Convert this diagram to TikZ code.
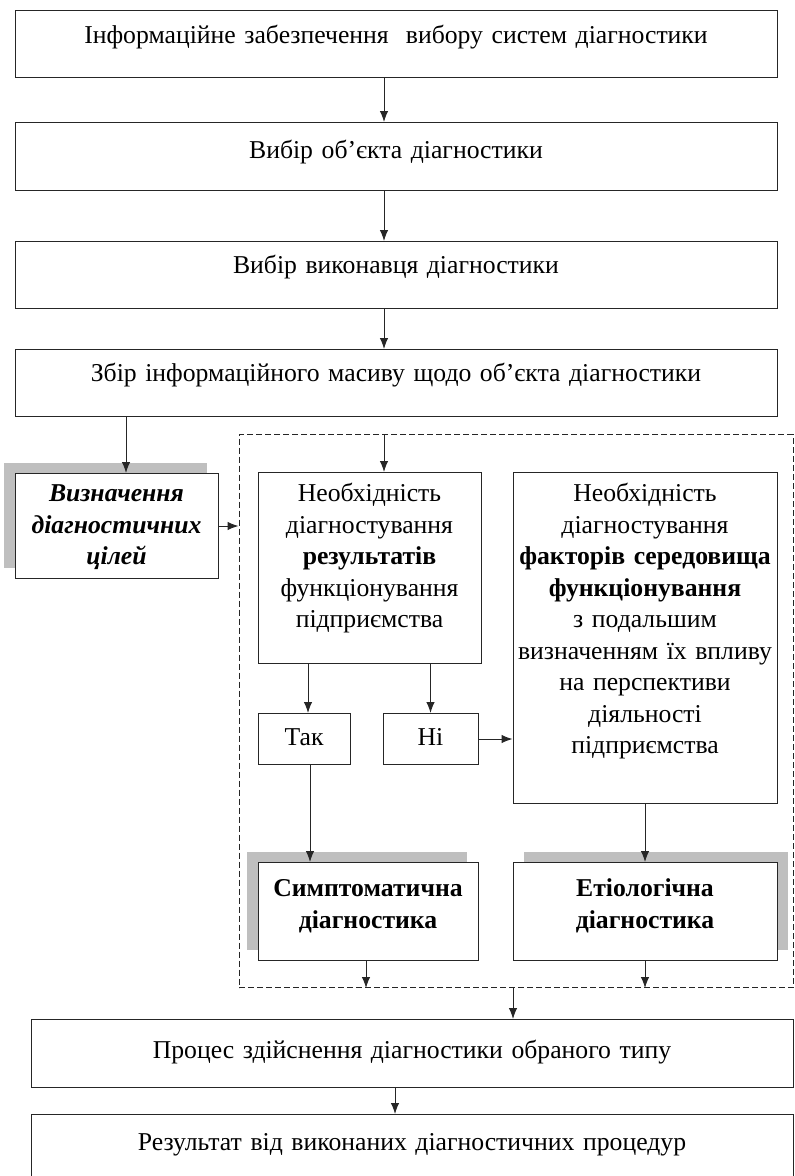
\documentclass[tikz,border=0pt]{standalone}
\usepackage{fontspec}
\setmainfont{Liberation Serif}
\usetikzlibrary{positioning,arrows.meta,shadows}

\tikzset{
  blk/.style={draw=black!85, line width=1bp, fill=white, rectangle, inner sep=0pt,
    anchor=north, align=center, font=\fontsize{25.7bp}{31.5bp}\selectfont,
    execute at begin node={\setlength{\baselineskip}{31.5bp}}},
  shdl/.style={drop shadow={shadow xshift=-11bp, shadow yshift=11bp, fill=black!25, opacity=1}},
  shdr/.style={drop shadow={shadow xshift=11bp, shadow yshift=11bp, fill=black!25, opacity=1}},
  grpbox/.style={draw=black!85, line width=1bp, dash pattern=on 6bp off 3bp,
    rectangle, inner sep=0pt, anchor=north},
}

\begin{document}
\begin{tikzpicture}[>={Latex[length=11bp,width=8.5bp]},line width=1bp]
\useasboundingbox (0,0) rectangle (795bp,-1176bp);
%%
\node (grp) at (516bp,-434bp) [grpbox, minimum width=554bp, minimum height=553bp] {};
\node (info) at (396bp,-10bp) [blk, text width=762bp, text height=33bp, text depth=34bp] {Інформаційне забезпечення\ \ вибору систем діагностики};
  \node (sel) at (396bp,-122bp) [blk, text width=762bp, text height=36bp, text depth=32bp] {Вибір об’єкта діагностики};
  \node (exe) at (396bp,-241bp) [blk, text width=762bp, text height=32bp, text depth=35bp] {Вибір виконавця діагностики};
  \node (coll) at (396bp,-349bp) [blk, text width=762bp, text height=32bp, text depth=35bp] {Збір інформаційного масиву щодо об’єкта діагностики};
  \node (aim) at (116.5bp,-473bp) [blk, shdl, text width=203bp, text height=28bp, text depth=77bp] {\textbf{\textit{Визначення}}\\ \textbf{\textit{діагностичних}}\\ \textbf{\textit{цілей}}};
  \node (res) at (369.5bp,-472bp) [blk, text width=223bp, text height=29bp, text depth=162bp] {Необхідність\\ діагностування\\ \textbf{результатів}\\ функціонування\\ підприємства};
  \node (env) at (645bp,-472bp) [blk, text width=264bp, text height=29bp, text depth=302bp] {Необхідність\\ діагностування\\ \textbf{факторів середовища}\\ \textbf{функціонування}\\ з подальшим\\ визначенням їх впливу\\ на перспективи\\ діяльності\\ підприємства};
  \node (yes) at (304bp,-713bp) [blk, text width=92bp, text height=32bp, text depth=19bp] {Так};
  \node (no) at (430.5bp,-713bp) [blk, text width=95bp, text height=32bp, text depth=19bp] {Ні};
  \node (sym) at (368bp,-862bp) [blk, shdl, text width=220bp, text height=34bp, text depth=64bp] {\textbf{Симптоматична}\\ \textbf{діагностика}};
  \node (eti) at (645bp,-862bp) [blk, shdr, text width=264bp, text height=34bp, text depth=64bp] {\textbf{Етіологічна}\\ \textbf{діагностика}};
  \node (proc) at (412bp,-1019bp) [blk, text width=762bp, text height=39bp, text depth=29bp] {Процес здійснення діагностики обраного типу};
  \node (rslt) at (412bp,-1114bp) [blk, text width=762bp, text height=36bp, text depth=32bp] {Результат від виконаних діагностичних процедур};
%
  \draw [black!85,->] ([xshift=-12bp]info.south) -- ([xshift=-12bp]sel.north);
  \draw [black!85,->] ([xshift=-12bp]sel.south) -- ([xshift=-12bp]exe.north);
  \draw [black!85,->] ([xshift=-12bp]exe.south) -- ([xshift=-12bp]coll.north);
  \draw [black!85,->] ([xshift=9.5bp]aim.north |- coll.south) -- ([xshift=9.5bp]aim.north);
  \draw [black!85,->] (aim.east) -- (aim.east -| grp.west);
  \draw [black!85,->] ([xshift=14.5bp]res.north |- grp.north) -- ([xshift=14.5bp]res.north);
  \draw [black!85,->] ([xshift=4bp]yes.north |- res.south) -- ([xshift=4bp]yes.north);
  \draw [black!85,->] (no.north |- res.south) -- (no.north);
  \draw [black!85,->] (no.east) -- (no.east -| env.west);
  \draw [black!85,->] ([xshift=6bp]yes.south) -- ([xshift=6bp]yes.south |- sym.north);
  \draw [black!85,->] (env.south) -- (eti.north);
  \draw [black!85,->] ([xshift=-2bp]sym.south) -- ([xshift=-2bp]sym.south |- grp.south);
  \draw [black!85,->] (eti.south) -- (eti.south |- grp.south);
  \draw [black!85,->] ([xshift=-3bp]grp.south) -- ([xshift=-3bp]grp.south |- proc.north);
  \draw [black!85,->] ([xshift=-17bp]proc.south) -- ([xshift=-17bp]rslt.north);
%
\end{tikzpicture}
\end{document}
